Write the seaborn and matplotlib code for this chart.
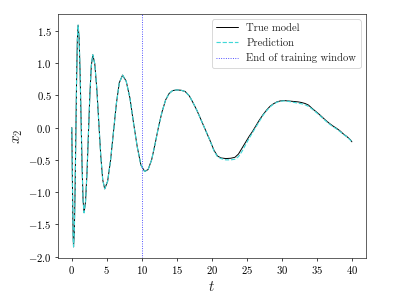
import matplotlib
matplotlib.use("Agg")
import matplotlib.pyplot as plt
import seaborn as sns
import pandas as pd

# time grid and trajectories
t_grid = [0.0, 0.08, 0.15, 0.2, 0.25, 0.358, 0.467, 0.575, 0.683, 0.792, 0.9,
          1.042, 1.183, 1.325, 1.467, 1.608, 1.75, 1.958, 2.167, 2.375, 2.583,
          2.792, 3.0, 3.283, 3.567, 3.85, 4.133, 4.417, 4.7, 5.117, 5.533, 5.95,
          6.367, 6.783, 7.25, 7.77, 8.3, 8.82, 9.35, 9.87, 10.4, 10.9, 11.4,
          11.9, 12.4, 12.9, 13.4, 13.9, 14.4, 15.0, 15.6, 16.2, 16.8, 17.3,
          17.9, 18.5, 19.1, 19.7, 20.3, 20.8, 21.3, 22.0, 22.7, 23.3, 23.8,
          24.3, 24.8, 25.3, 25.8, 26.3, 26.8, 27.3, 27.8, 28.3, 28.8, 29.3,
          29.8, 30.3, 30.8, 31.3, 31.8, 32.3, 32.8, 33.3, 33.8, 34.3, 34.8,
          35.3, 35.8, 36.3, 36.8, 37.3, 37.8, 38.3, 38.8, 39.3, 39.8, 40.0]

x2_true = [0.0, -0.75, -1.4, -1.72, -1.85, -1.62, -0.99, -0.13, 0.73, 1.36, 1.59,
           1.395, 0.863, 0.135, -0.593, -1.125, -1.32, -1.156, -0.708, -0.095, 0.518,
           0.966, 1.13, 0.99, 0.61, 0.09, -0.43, -0.81, -0.95, -0.832, -0.509, -0.068,
           0.374, 0.697, 0.815, 0.72, 0.46, 0.07, -0.3, -0.58, -0.68, -0.65, -0.5,
           -0.25, 0.02, 0.25, 0.43, 0.53, 0.575, 0.585, 0.58, 0.56, 0.49, 0.39,
           0.26, 0.11, -0.04, -0.19, -0.35, -0.44, -0.47, -0.48, -0.475, -0.46, -0.41,
           -0.32, -0.23, -0.14, -0.06, 0.03, 0.12, 0.2, 0.27, 0.33, 0.37, 0.4,
           0.415, 0.42, 0.415, 0.41, 0.405, 0.4, 0.39, 0.375, 0.35, 0.3, 0.255,
           0.21, 0.16, 0.11, 0.065, 0.025, -0.01, -0.05, -0.1, -0.14, -0.19, -0.22]

# prediction follows the true model until ~t=20, then drifts slightly
n_same = t_grid.index(20.3)
x2_pred = x2_true[:n_same] + [
    -0.36, -0.45, -0.48, -0.5, -0.5, -0.49, -0.45,
    -0.37, -0.27, -0.17, -0.08, 0.01, 0.1, 0.19, 0.26, 0.32, 0.365, 0.395,
    0.41, 0.415, 0.41, 0.4, 0.39, 0.38, 0.37, 0.355, 0.33, 0.29, 0.245,
    0.2, 0.15, 0.1, 0.055, 0.015, -0.02, -0.06, -0.105, -0.145, -0.195, -0.225]

t_train_end = 10

df = pd.DataFrame({"t": t_grid, "true": x2_true, "pred": x2_pred})

sns.set_style("ticks")
plt.rcParams["font.family"] = "serif"
plt.rcParams["font.serif"] = ["cmr10"]
plt.rcParams["mathtext.fontset"] = "cm"
plt.rcParams["axes.formatter.use_mathtext"] = True
plt.rcParams["axes.unicode_minus"] = True

fig, ax = plt.subplots(figsize=(407 / 64, 306 / 64), dpi=64)
fig.subplots_adjust(left=0.142, right=0.899, bottom=0.157, top=0.954)

sns.lineplot(data=df, x="t", y="true", ax=ax, color="black", lw=1.1,
             sort=False, label="True model")
sns.lineplot(data=df, x="t", y="pred", ax=ax, color="#40d8d8", lw=1.3,
             linestyle="--", sort=False, label="Prediction")
ax.axvline(t_train_end, color="#3333ff", linestyle=":", lw=1.0,
           label="End of training window")

ax.set_xlabel("$t$", fontsize=17)
ax.set_ylabel("$x_2$", fontsize=17)
ax.tick_params(labelsize=12, colors="black")
ax.legend(loc="upper right", fontsize=12, fancybox=True, framealpha=0.8)

fig.savefig("out.png", dpi=64)
